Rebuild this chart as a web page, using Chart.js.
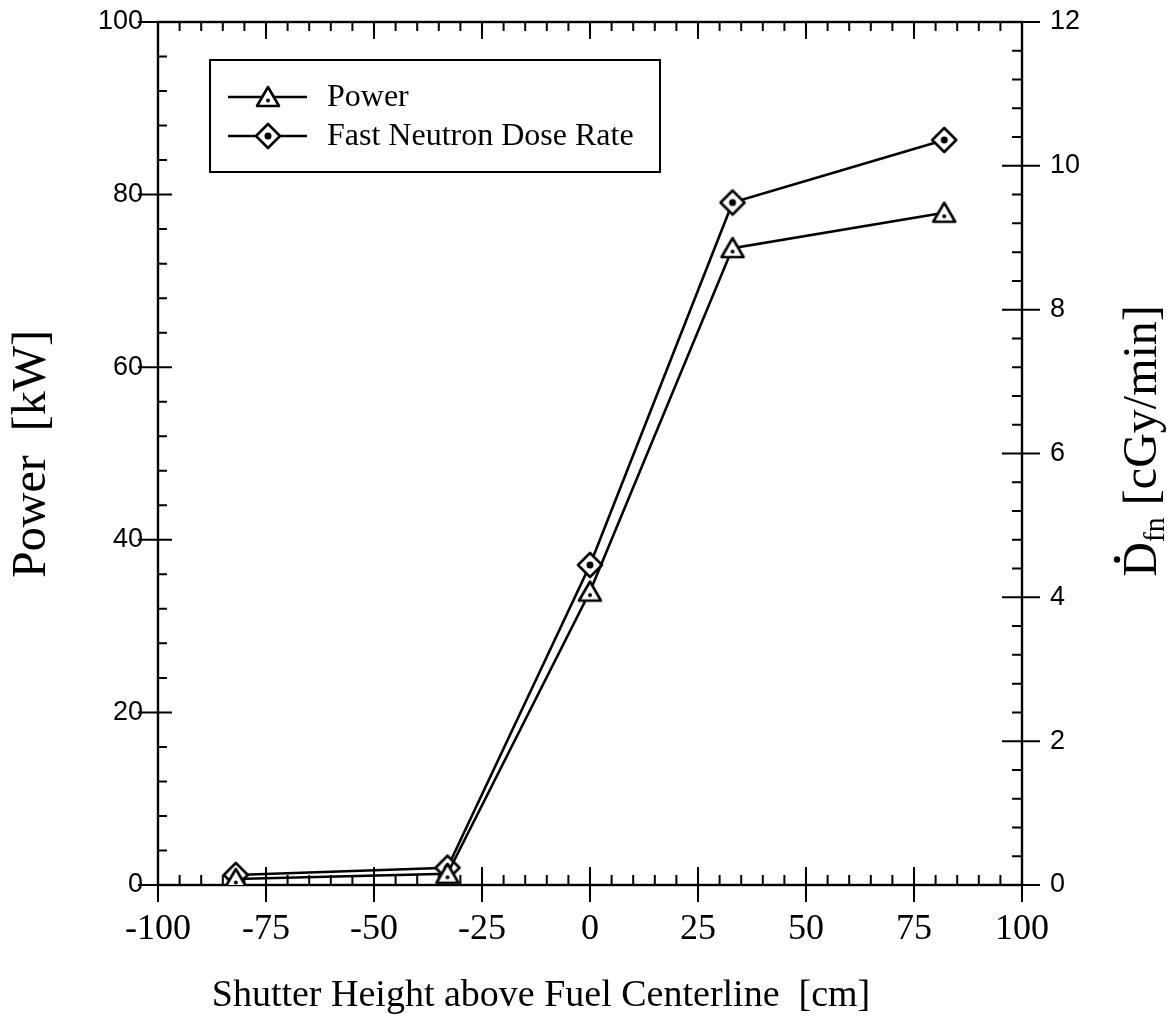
<!DOCTYPE html>
<html>
<head>
<meta charset="utf-8">
<script src="https://cdn.jsdelivr.net/npm/chart.js@4.4.1/dist/chart.umd.min.js"></script>
<style>
    html, body { margin: 0; padding: 0; background: #fff; }
    #wrap { width: 1167px; height: 1031px; }
</style>
</head>
<body>
<div id="wrap"><canvas id="chart" width="1167" height="1031"></canvas></div>
<script>
// ===== data =====
const shutterHeight = [-82, -33, 0, 33, 82];          // cm
const powerKW = [0.7, 1.3, 34, 73.8, 77.9];            // kW (left axis)
const doseRate = [0.14, 0.24, 4.45, 9.49, 10.36];      // cGy/min (right axis)
const xTicks = [-100, -75, -50, -25, 0, 25, 50, 75, 100];
const powerTicks = [0, 20, 40, 60, 80, 100];
const doseTicks = [0, 2, 4, 6, 8, 10, 12];
const seriesNames = ['Power', 'Fast Neutron Dose Rate'];

const SERIF = '"Liberation Serif", "Times New Roman", serif';
const SANS = '"Liberation Sans", Arial, sans-serif';

// ===== marker images (outline + inner dot) =====
function makeMarker(kind) {
    const cv = document.createElement('canvas');
    cv.width = 30; cv.height = 30;
    const g = cv.getContext('2d');
    g.lineWidth = 2.6;
    g.lineJoin = 'round';
    g.strokeStyle = '#000';
    g.fillStyle = '#fff';
    g.beginPath();
    if (kind === 'diamond') {
        g.moveTo(15, 3); g.lineTo(27, 15); g.lineTo(15, 27); g.lineTo(3, 15);
    } else {
        g.moveTo(15, 5); g.lineTo(26, 24); g.lineTo(4, 24);
    }
    g.closePath();
    g.fill();
    g.stroke();
    g.fillStyle = '#000';
    g.beginPath();
    if (kind === 'diamond') g.arc(15, 15, 3.5, 0, Math.PI * 2);
    else g.arc(15, 18.5, 2, 0, Math.PI * 2);
    g.fill();
    return cv;
}
const triMarker = makeMarker('triangle');
const diaMarker = makeMarker('diamond');

// ===== frame, tick marks, legend and axis titles =====
function tickRange(min, max, step) {
    const out = [];
    for (let v = min; v <= max + 1e-9; v += step) out.push(Math.round(v * 1000) / 1000);
    return out;
}

const figurePlugin = {
    id: 'figure',
    beforeDatasetsDraw(chart) {
        const { ctx, chartArea: a, scales } = chart;
        ctx.save();
        ctx.strokeStyle = '#000';
        ctx.lineWidth = 2.4;
        ctx.strokeRect(a.left, a.top, a.right - a.left, a.bottom - a.top);

        ctx.lineWidth = 2;
        ctx.beginPath();
        // bottom + top axes
        tickRange(-100, 100, 5).forEach(v => {
            const px = scales.x.getPixelForValue(v);
            const major = v % 25 === 0;
            if (major) {
                ctx.moveTo(px, a.bottom - 18); ctx.lineTo(px, a.bottom + 17);
                ctx.moveTo(px, a.top); ctx.lineTo(px, a.top + 17);
            } else {
                ctx.moveTo(px, a.bottom); ctx.lineTo(px, a.bottom - 10);
                ctx.moveTo(px, a.top); ctx.lineTo(px, a.top + 9);
            }
        });
        // left axis
        tickRange(0, 100, 4).forEach(v => {
            const py = scales.y.getPixelForValue(v);
            if (v % 20 === 0) { ctx.moveTo(a.left - 20, py); ctx.lineTo(a.left + 14, py); }
            else { ctx.moveTo(a.left, py); ctx.lineTo(a.left + 9, py); }
        });
        // right axis
        tickRange(0, 12, 0.4).forEach(v => {
            const py = scales.y1.getPixelForValue(v);
            if (Math.abs(v % 2) < 1e-6) { ctx.moveTo(a.right - 20, py); ctx.lineTo(a.right + 18, py); }
            else { ctx.moveTo(a.right, py); ctx.lineTo(a.right - 10, py); }
        });
        ctx.stroke();
        ctx.restore();
    },
    afterDraw(chart) {
        const { ctx } = chart;
        ctx.save();
        ctx.fillStyle = '#000';
        ctx.strokeStyle = '#000';

        // legend
        ctx.lineWidth = 2;
        ctx.strokeRect(210, 60, 450, 112);
        const rows = [[97, triMarker, seriesNames[0]], [136, diaMarker, seriesNames[1]]];
        ctx.font = '32px ' + SERIF;
        ctx.textBaseline = 'middle';
        ctx.textAlign = 'left';
        rows.forEach(([y, img, name]) => {
            ctx.lineWidth = 2.6;
            ctx.beginPath();
            ctx.moveTo(228, y); ctx.lineTo(307, y);
            ctx.stroke();
            ctx.drawImage(img, 268 - img.width / 2, y - img.height / 2);
            ctx.fillText(name, 327, y + 1);
        });

        // x title
        ctx.font = '38px ' + SERIF;
        ctx.textAlign = 'center';
        ctx.fillText('Shutter Height above Fuel Centerline  [cm]', 541, 996);

        // left title
        ctx.save();
        ctx.translate(32, 454);
        ctx.rotate(-Math.PI / 2);
        ctx.font = '48px ' + SERIF;
        ctx.textAlign = 'center';
        ctx.fillText('Power  [kW]', 0, 0);
        ctx.restore();

        // right title: D-dot with subscript fn
        ctx.save();
        ctx.translate(1143, 441);
        ctx.rotate(-Math.PI / 2);
        ctx.textAlign = 'left';
        const big = '48px ' + SERIF, small = '30px ' + SERIF;
        ctx.font = big;
        const wD = ctx.measureText('D').width;
        const wRest = ctx.measureText(' [cGy/min]').width;
        ctx.font = small;
        const wSub = ctx.measureText('fn').width;
        let x0 = -(wD + wSub + wRest) / 2;
        ctx.font = big;
        ctx.fillText('D', x0, 0);
        ctx.beginPath();
        ctx.arc(x0 + wD / 2, -26, 3.2, 0, Math.PI * 2);
        ctx.fill();
        ctx.font = small;
        ctx.fillText('fn', x0 + wD, 13);
        ctx.font = big;
        ctx.fillText(' [cGy/min]', x0 + wD + wSub, 0);
        ctx.restore();

        ctx.restore();
    }
};

// ===== chart =====
const ctx = document.getElementById('chart').getContext('2d');
const chart = new Chart(ctx, {
    type: 'scatter',
    data: {
        datasets: [
            {
                label: seriesNames[0],
                data: shutterHeight.map((x, i) => ({ x, y: powerKW[i] })),
                yAxisID: 'y',
                showLine: true,
                borderColor: '#000',
                borderWidth: 2.6,
                pointStyle: triMarker,
                pointRadius: 12
            },
            {
                label: seriesNames[1],
                data: shutterHeight.map((x, i) => ({ x, y: doseRate[i] })),
                yAxisID: 'y1',
                showLine: true,
                borderColor: '#000',
                borderWidth: 2.6,
                pointStyle: diaMarker,
                pointRadius: 12
            }
        ]
    },
    options: {
        responsive: false,
        animation: false,
        layout: { padding: { top: 22 } },
        plugins: {
            legend: { display: false },
            tooltip: { enabled: false }
        },
        scales: {
            x: {
                type: 'linear',
                min: -100, max: 100,
                afterBuildTicks: s => { s.ticks = xTicks.map(v => ({ value: v })); },
                afterFit: s => { s.height = 146; },
                ticks: { color: '#000', padding: 2, maxRotation: 0, font: { family: SERIF, size: 36 } },
                grid: { display: false, drawTicks: true, tickLength: 21 },
                border: { display: false }
            },
            y: {
                position: 'left',
                min: 0, max: 100,
                afterBuildTicks: s => { s.ticks = powerTicks.map(v => ({ value: v })); },
                afterFit: s => { s.width = 158; },
                ticks: { color: '#000', padding: 2, font: { family: SANS, size: 27 } },
                grid: { display: false, drawTicks: true, tickLength: 13 },
                border: { display: false }
            },
            y1: {
                position: 'right',
                min: 0, max: 12,
                afterBuildTicks: s => { s.ticks = doseTicks.map(v => ({ value: v })); },
                afterFit: s => { s.width = 145; },
                ticks: { color: '#000', padding: 2, font: { family: SANS, size: 27 } },
                grid: { display: false, drawTicks: true, tickLength: 26 },
                border: { display: false }
            }
        }
    },
    plugins: [figurePlugin]
});
</script>
</body>
</html>
